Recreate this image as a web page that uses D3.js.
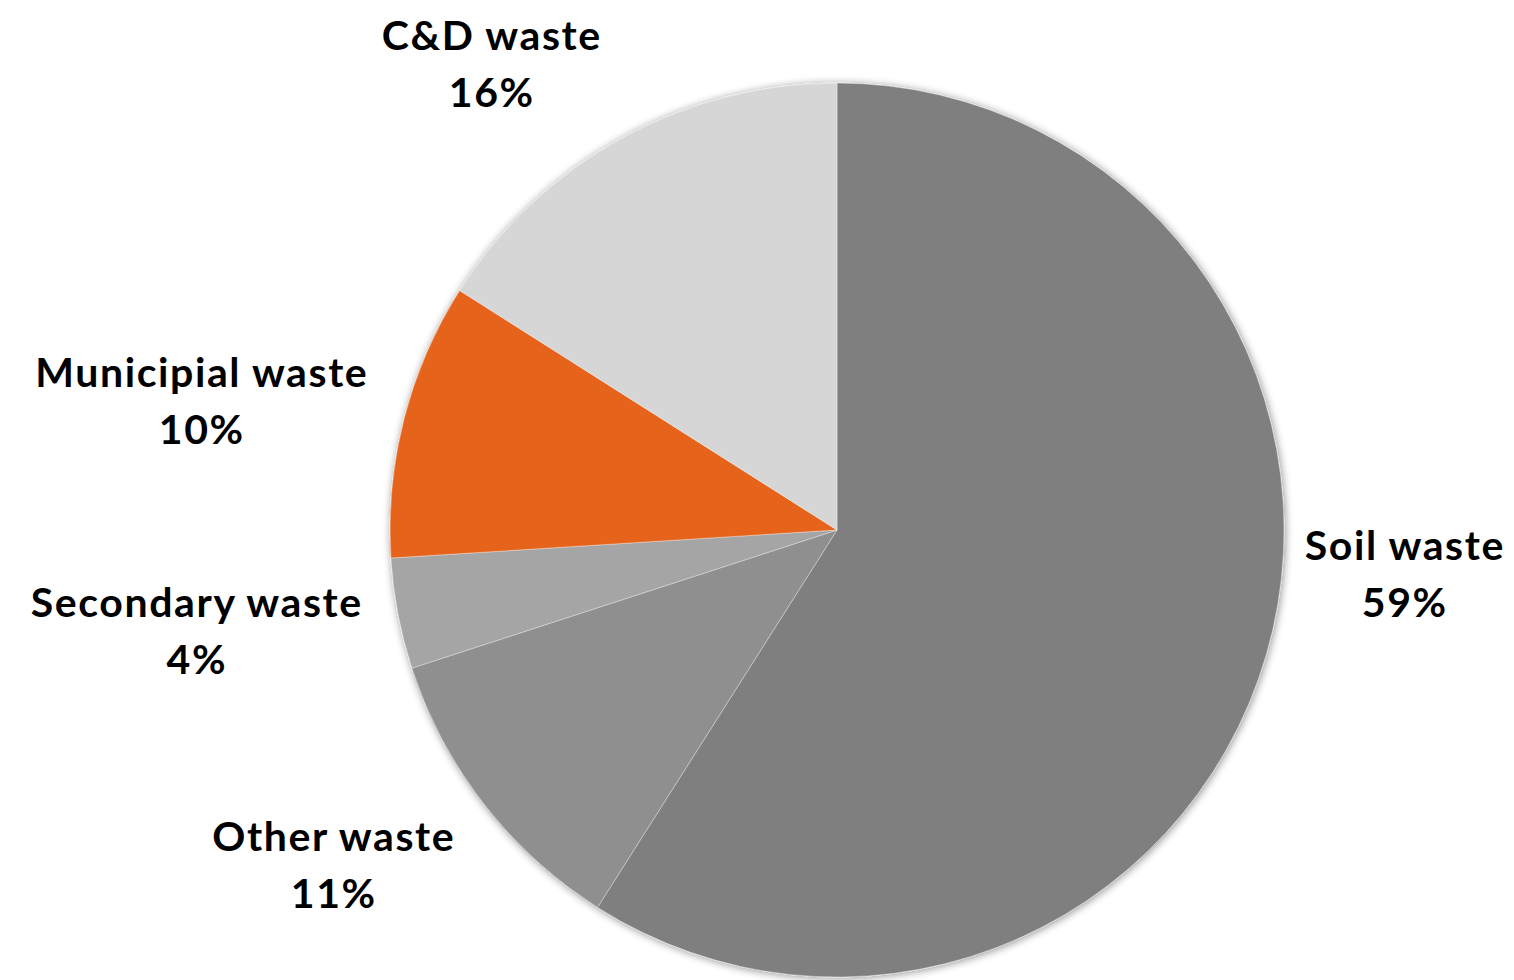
<!DOCTYPE html>
<html>
<head>
<meta charset="utf-8">
<script src="https://cdn.jsdelivr.net/npm/d3@7"></script>
<style>
html,body{margin:0;padding:0;background:#fff;}
svg{display:block;}
text{font-family:Lato,"Open Sans",sans-serif;font-weight:700;fill:#000;}
</style>
</head>
<body>
<svg id="chart" width="1514" height="980"></svg>
<script>
// Data
const categories = ["Soil waste", "Other waste", "Secondary waste", "Municipial waste", "C&D waste"];
const values = [59, 11, 4, 10, 16];
const colors = ["#7f7f7f", "#8f8f8f", "#a5a5a5", "#e6641e", "#d6d6d6"];

// Layout (label centres, separate from data)
const labelCenters = [[1404, 560], [333, 851], [196, 617], [201, 387], [491, 50]];

const W = 1514, H = 980;
const cx = 837, cy = 530, R = 447;
const svg = d3.select("#chart");

const defs = svg.append("defs");
const f = defs.append("filter").attr("id", "sh").attr("x", "-10%").attr("y", "-10%").attr("width", "120%").attr("height", "120%");
f.append("feGaussianBlur").attr("in", "SourceAlpha").attr("stdDeviation", 4).attr("result", "b");
f.append("feOffset").attr("in", "b").attr("dx", 1).attr("dy", 1).attr("result", "o");
f.append("feComponentTransfer").attr("in", "o").attr("result", "c")
  .append("feFuncA").attr("type", "linear").attr("slope", 0.45);
const m = f.append("feMerge");
m.append("feMergeNode").attr("in", "c");
m.append("feMergeNode").attr("in", "SourceGraphic");

const data = categories.map((c, i) => ({name: c, value: values[i], color: colors[i]}));
const pie = d3.pie().value(d => d.value).sort(null);
const arc = d3.arc().innerRadius(0).outerRadius(R);

const g = svg.append("g").attr("transform", `translate(${cx},${cy})`);
const gs = g.append("g").attr("filter", "url(#sh)");
gs.selectAll("path").data(pie(data)).join("path")
  .attr("d", arc)
  .attr("fill", d => d.data.color)
  .attr("stroke", "rgba(255,255,255,0.35)")
  .attr("stroke-width", 1);

const fs = 41;
const ls = 1.6;
const lab = svg.append("g");
data.forEach((d, i) => {
  const [x, y] = labelCenters[i];
  const t = lab.append("text").attr("text-anchor", "middle").attr("font-size", fs)
    .attr("letter-spacing", ls);
  t.append("tspan").attr("x", x + ls / 2).attr("y", y).text(d.name);
  t.append("tspan").attr("x", x + ls / 2).attr("y", y + 57).text(d3.format(".0f")(d.value) + "%");
});
</script>
</body>
</html>
